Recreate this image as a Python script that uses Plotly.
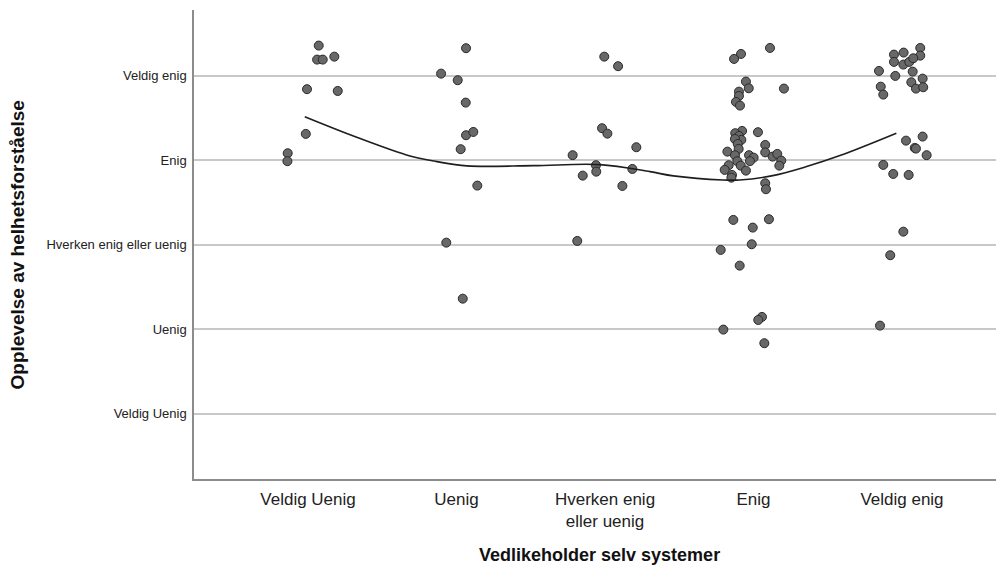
import plotly.graph_objects as go

# Category labels
x_categories = ["Veldig Uenig", "Uenig", "Hverken enig<br>eller uenig", "Enig", "Veldig enig"]
y_categories = ["Veldig Uenig", "Uenig", "Hverken enig eller uenig", "Enig", "Veldig enig"]

# Jittered observations (x = category position 1..5 with jitter, y = score with jitter)
vu_x = [1.072, 1.061, 1.099, 1.177, 0.993, 1.200, 0.985, 0.863, 0.861]
vu_y = [5.359, 5.193, 5.193, 5.228, 4.843, 4.822, 4.314, 4.085, 3.991]

u_x = [2.064, 1.896, 2.008, 2.062, 2.064, 2.113, 2.028, 2.140, 1.931, 2.042]
u_y = [5.328, 5.027, 4.949, 4.684, 4.298, 4.337, 4.133, 3.702, 3.027, 2.364]

h_x = [2.995, 3.088, 2.980, 3.016, 3.211, 2.782, 2.939, 2.941, 3.184, 2.850, 3.117, 2.813]
h_y = [5.228, 5.115, 4.381, 4.317, 4.156, 4.062, 3.943, 3.867, 3.899, 3.820, 3.698, 3.047]

e_x = [4.111, 3.916, 3.869, 3.949, 3.968, 4.205, 3.902, 3.902, 3.882, 3.909,
       3.923, 3.877, 4.030, 3.902, 3.918, 3.875, 3.894, 4.079, 3.900, 3.824,
       4.079, 3.875, 3.970, 4.001, 4.129, 4.160, 3.891, 3.976, 4.187, 3.914,
       3.833, 4.174, 3.806, 3.949, 3.855, 3.851, 4.079, 4.084,
       3.864, 4.104, 3.995, 3.988, 3.779, 3.907, 4.057, 4.032, 3.797, 4.073]
e_y = [5.331, 5.260, 5.201, 4.933, 4.854, 4.850, 4.814, 4.763, 4.692, 4.649,
       4.349, 4.322, 4.334, 4.290, 4.243, 4.254, 4.195, 4.183, 4.136, 4.104,
       4.095, 4.062, 4.062, 4.033, 4.045, 4.077, 3.991, 3.991, 3.998, 3.938,
       3.943, 3.938, 3.888, 3.879, 3.828, 3.796, 3.730, 3.659,
       3.296, 3.304, 3.205, 3.008, 2.941, 2.755, 2.148, 2.112, 1.998, 1.837]

ve_x = [5.123, 5.123, 5.011, 4.946, 4.946, 5.009, 5.049, 5.076, 4.845, 4.955,
        5.072, 5.139, 4.857, 4.874, 5.063, 5.094, 5.143,
        5.027, 5.139, 5.086, 5.094, 5.166, 4.874, 4.941, 5.045,
        5.009, 4.921, 4.852]
ve_y = [5.331, 5.240, 5.276, 5.252, 5.166, 5.134, 5.166, 5.209, 5.059, 5.000,
        5.051, 4.968, 4.873, 4.779, 4.925, 4.850, 4.866,
        4.234, 4.282, 4.148, 4.140, 4.062, 3.947, 3.840, 3.828,
        3.157, 2.878, 2.045]

# Fit line (loess-like)
fit_x = [0.978, 1.328, 1.687, 1.867, 2.069, 2.517, 2.966, 3.303, 3.460, 3.793, 3.906, 4.130, 4.358, 4.582, 4.962]
fit_y = [4.518, 4.275, 4.053, 3.986, 3.935, 3.938, 3.950, 3.867, 3.817, 3.769, 3.769, 3.820, 3.927, 4.057, 4.322]

all_x = vu_x + u_x + h_x + e_x + ve_x
all_y = vu_y + u_y + h_y + e_y + ve_y

FONT = "Liberation Sans, Arial, sans-serif"

fig = go.Figure()
fig.add_trace(go.Scatter(
    x=all_x, y=all_y, mode="markers",
    marker=dict(size=9, color="#686868", line=dict(color="#2a2a2a", width=1)),
    showlegend=False, hoverinfo="x+y"))
fig.add_trace(go.Scatter(
    x=fit_x, y=fit_y, mode="lines",
    line=dict(color="#1e1e1e", width=1.6, shape="spline", smoothing=1.0),
    showlegend=False))

fig.update_layout(
    width=1004, height=570,
    margin=dict(l=186, r=8, t=2, b=99),
    paper_bgcolor="white", plot_bgcolor="white",
    font=dict(family=FONT, color="#222"),
    xaxis=dict(
        range=[0.232, 5.687], tickmode="array", tickvals=[1, 2, 3, 4, 5],
        ticktext=x_categories, showgrid=False, zeroline=False,
        showline=True, linecolor="#8c8c8c", linewidth=1.5,
        ticks="", tickfont=dict(size=17, color="#222", family=FONT),
        ticklabelstandoff=4),
    yaxis=dict(
        range=[0.23, 5.78], tickmode="array", tickvals=[1, 2, 3, 4, 5],
        ticktext=y_categories, showgrid=True, gridcolor="#c8c8c8", gridwidth=1.5,
        zeroline=False, showline=True, linecolor="#8c8c8c", linewidth=1.5,
        ticks="", tickfont=dict(size=13, color="#222", family=FONT),
        ticklabelstandoff=3),
    annotations=[
        dict(text="<b>Opplevelse av helhetsforståelse</b>", xref="paper", yref="paper",
             x=-0.2173, y=0.5, xanchor="center", yanchor="middle", textangle=-90,
             showarrow=False, font=dict(size=19, color="#111", family=FONT)),
        dict(text="<b>Vedlikeholder selv systemer</b>", xref="paper", yref="paper",
             x=0.501, y=-0.162, xanchor="center", yanchor="middle",
             showarrow=False, font=dict(size=18, color="#111", family=FONT)),
    ],
)

fig.write_html("out.html")
